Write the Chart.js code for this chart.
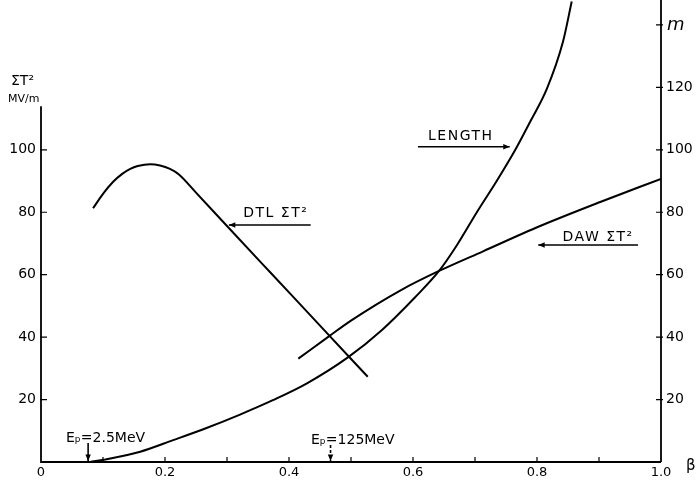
<!DOCTYPE html>
<html>
<head>
<meta charset="utf-8">
<script src="https://cdn.jsdelivr.net/npm/chart.js@4.4.1/dist/chart.umd.min.js"></script>
<style>
  html, body { margin: 0; padding: 0; background: #fff; }
  #wrap { width: 698px; height: 480px; }
</style>
</head>
<body>
<div id="wrap"><canvas id="betaChart" width="698" height="480"></canvas></div>
<script>
// beta values and curves
const betaDTL   = [0.084, 0.100, 0.116, 0.131, 0.144, 0.156, 0.176, 0.192, 0.208, 0.222, 0.250, 0.300, 0.370, 0.450, 0.527];
const dtlValues = [81.3, 85.9, 89.7, 92.3, 93.9, 94.8, 95.4, 95.0, 93.9, 92.2, 86.3, 75.6, 60.7, 43.7, 27.3];

const betaDAW   = [0.415, 0.466, 0.500, 0.580, 0.642, 0.713, 0.805, 0.902, 1.000];
const dawValues = [33.1, 40.5, 45.3, 55.0, 61.2, 67.5, 75.6, 83.3, 90.7];

const betaLen      = [0.079, 0.106, 0.160, 0.213, 0.267, 0.321, 0.374, 0.429, 0.495, 0.550, 0.603, 0.642, 0.670, 0.703, 0.735, 0.765, 0.789, 0.816, 0.842, 0.856];
const lengthValues = [0.0, 0.9, 3.3, 7.0, 10.9, 15.2, 19.8, 25.2, 33.5, 42.3, 52.7, 61.2, 69.2, 80.0, 90.0, 100.0, 109.0, 119.6, 134.7, 147.5];

const xTickLabels = {0: '0', 0.2: '0.2', 0.4: '0.4', 0.6: '0.6', 0.8: '0.8', 1: '1.0'};
const leftTicks  = [20, 40, 60, 80, 100];
const rightTicks = [20, 40, 60, 80, 100, 120];

const FONT = "'DejaVu Sans', sans-serif";

function pts(xs, ys) {
  return xs.map(function (b, i) { return {x: b, y: ys[i]}; });
}

function arrow(ctx, x1, y1, x2, y2, dashed) {
  ctx.save();
  ctx.strokeStyle = '#000';
  ctx.fillStyle = '#000';
  ctx.lineWidth = 1.6;
  if (dashed) ctx.setLineDash([3, 2]);
  ctx.beginPath();
  ctx.moveTo(x1, y1);
  ctx.lineTo(x2, y2);
  ctx.stroke();
  ctx.setLineDash([]);
  var a = Math.atan2(y2 - y1, x2 - x1);
  ctx.beginPath();
  ctx.moveTo(x2, y2);
  ctx.lineTo(x2 - 7 * Math.cos(a - 0.4), y2 - 7 * Math.sin(a - 0.4));
  ctx.lineTo(x2 - 7 * Math.cos(a + 0.4), y2 - 7 * Math.sin(a + 0.4));
  ctx.closePath();
  ctx.fill();
  ctx.restore();
}

// axis lines, inward ticks and the hand written notes
const overlay = {
  id: 'overlay',
  afterDraw(chart) {
    const ctx = chart.ctx;
    const x = chart.scales.x, y = chart.scales.y, y2 = chart.scales.y2;
    const x0 = x.getPixelForValue(0), x1 = x.getPixelForValue(1);
    const yb = y.getPixelForValue(0);

    ctx.save();
    ctx.strokeStyle = '#000';
    ctx.lineWidth = 1.8;
    ctx.beginPath();
    ctx.moveTo(x0, y.getPixelForValue(114));
    ctx.lineTo(x0, yb);
    ctx.lineTo(x1, yb);
    ctx.moveTo(x1, yb);
    ctx.lineTo(x1, y2.getPixelForValue(148));
    ctx.stroke();

    ctx.lineWidth = 1.2;
    ctx.beginPath();
    for (var i = 1; i <= 9; i++) {
      var px = x.getPixelForValue(i / 10);
      ctx.moveTo(px, yb);
      ctx.lineTo(px, yb - 5);
    }
    leftTicks.forEach(function (v) {
      var py = y.getPixelForValue(v);
      ctx.moveTo(x0 - 1, py);
      ctx.lineTo(x0 + 6, py);
    });
    rightTicks.concat([140]).forEach(function (v) {
      var py = y2.getPixelForValue(v);
      ctx.moveTo(x1 - 5, py);
      ctx.lineTo(x1 + 2, py);
    });
    ctx.stroke();

    ctx.fillStyle = '#000';
    ctx.textBaseline = 'middle';
    ctx.font = '15px ' + FONT;
    ctx.textAlign = 'left';
    ctx.fillText('β', x1 + 25, yb + 4);
    ctx.font = 'italic 18px ' + FONT;
    ctx.fillText('m', x1 + 6, y2.getPixelForValue(140));

    ctx.font = '14px ' + FONT;
    ctx.fillText('ΣT²', 11, 81);
    ctx.font = '11px ' + FONT;
    ctx.fillText('MV/m', 8, 99);

    // curve labels with their arrows
    ctx.letterSpacing = '1.5px';
    ctx.font = '14px ' + FONT;
    ctx.textAlign = 'center';
    var ly = y.getPixelForValue(101);
    ctx.fillText('LENGTH', (x.getPixelForValue(0.608) + x.getPixelForValue(0.756)) / 2 - 3, ly - 10);
    arrow(ctx, x.getPixelForValue(0.608), ly, x.getPixelForValue(0.756), ly);

    var dy = y.getPixelForValue(75.9);
    ctx.fillText('DTL ΣT²', (x.getPixelForValue(0.303) + x.getPixelForValue(0.435)) / 2 + 6, dy - 12);
    arrow(ctx, x.getPixelForValue(0.435), dy, x.getPixelForValue(0.303), dy);

    var wy = y.getPixelForValue(69.5);
    ctx.fillText('DAW ΣT²', (x.getPixelForValue(0.802) + x.getPixelForValue(0.963)) / 2 + 10, wy - 8);
    arrow(ctx, x.getPixelForValue(0.963), wy, x.getPixelForValue(0.802), wy);

    // energy markers
    ctx.letterSpacing = '0px';
    ctx.textAlign = 'left';
    ctx.font = '14px ' + FONT;
    ctx.fillText('Eₚ=2.5MeV', 66, yb - 24);
    arrow(ctx, x.getPixelForValue(0.076), yb - 19, x.getPixelForValue(0.076), yb - 1);
    ctx.fillText('Eₚ=125MeV', 311, yb - 22);
    arrow(ctx, x.getPixelForValue(0.467), yb - 17, x.getPixelForValue(0.467), yb - 1, true);
    ctx.restore();
  }
};

function lineSet(label, data, axis) {
  return {
    label: label,
    data: data,
    yAxisID: axis,
    borderColor: '#000',
    borderWidth: 2,
    pointRadius: 0,
    fill: false,
    cubicInterpolationMode: 'monotone'
  };
}

function fitY(width) {
  return function (s) {
    s.width = width;
    s.paddingTop = 0;
    s.paddingBottom = 0;
  };
}

const config = {
  type: 'line',
  data: {
    datasets: [
      lineSet('DTL ΣT²', pts(betaDTL, dtlValues), 'y'),
      lineSet('DAW ΣT²', pts(betaDAW, dawValues), 'y'),
      lineSet('LENGTH', pts(betaLen, lengthValues), 'y2')
    ]
  },
  options: {
    responsive: false,
    animation: false,
    layout: { padding: 0 },
    plugins: { legend: { display: false }, tooltip: { enabled: false } },
    scales: {
      x: {
        type: 'linear',
        min: 0, max: 1,
        grid: { display: false, drawTicks: false },
        border: { display: false },
        afterFit: function (s) { s.height = 18; s.paddingLeft = 0; s.paddingRight = 0; },
        ticks: {
          stepSize: 0.1, padding: 3, maxRotation: 0, autoSkip: false,
          color: '#000', font: { family: FONT, size: 13 },
          callback: function (v) {
            var k = Math.round(v * 10) / 10;
            return xTickLabels[k] !== undefined ? xTickLabels[k] : '';
          }
        }
      },
      y: {
        position: 'left',
        min: 0, max: 148,
        grid: { display: false, drawTicks: false },
        border: { display: false },
        afterFit: fitY(41),
        ticks: {
          stepSize: 20, padding: 5, color: '#000', font: { family: FONT, size: 14 },
          callback: function (v) { return leftTicks.indexOf(v) >= 0 ? v : ''; }
        }
      },
      y2: {
        position: 'right',
        min: 0, max: 148,
        grid: { display: false, drawTicks: false },
        border: { display: false },
        afterFit: fitY(37),
        ticks: {
          stepSize: 20, padding: 5, color: '#000', font: { family: FONT, size: 14 },
          callback: function (v) { return rightTicks.indexOf(v) >= 0 ? v : ''; }
        }
      }
    }
  },
  plugins: [overlay]
};

const ctx = document.getElementById('betaChart').getContext('2d');
const betaChart = new Chart(ctx, config);
</script>
</body>
</html>
